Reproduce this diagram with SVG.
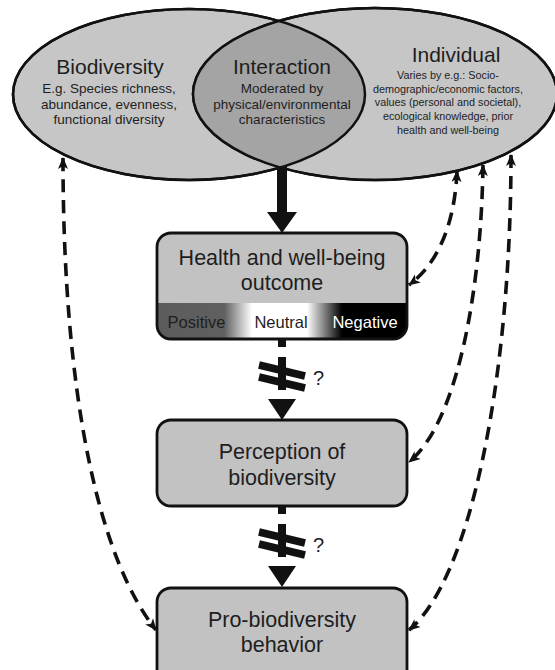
<svg xmlns="http://www.w3.org/2000/svg" width="555" height="670" viewBox="0 0 555 670">
<style>
text{font-family:"Liberation Sans",Arial,sans-serif;fill:#1e1e1e;text-anchor:middle}
.title{font-size:21px}
.sub{font-size:13.5px}
.ind{font-size:10.8px}
.box{font-size:21.5px}
.bar{font-size:16.5px}
.q{font-size:20px;text-anchor:start}
.ell{fill:#c6c6c6;stroke:#111;stroke-width:2.5}
.rbox{fill:#c2c2c2;stroke:#111;stroke-width:2.8}
.dash{fill:none;stroke:#111;stroke-width:3.6;stroke-dasharray:13 8}
.bk{fill:#111}
.brk{stroke:#111;stroke-width:7.5}
</style>
<defs>
<clipPath id="clipL"><ellipse cx="189" cy="94.5" rx="176" ry="85.5"/></clipPath>
<clipPath id="clipH"><rect x="157" y="233" width="250" height="106" rx="14"/></clipPath>
<linearGradient id="gr" x1="157" y1="0" x2="407" y2="0" gradientUnits="userSpaceOnUse">
<stop offset="0" stop-color="#5c5c5c"/>
<stop offset="0.27" stop-color="#606060"/>
<stop offset="0.38" stop-color="#ffffff"/>
<stop offset="0.6" stop-color="#ffffff"/>
<stop offset="0.74" stop-color="#000000"/>
<stop offset="1" stop-color="#000000"/>
</linearGradient>
<marker id="ah" viewBox="0 0 12 12" refX="11" refY="6" markerWidth="12" markerHeight="12" markerUnits="userSpaceOnUse" orient="auto-start-reverse">
<path d="M0,1 L12,6 L0,11 L3,6 z" fill="#111"/>
</marker>
</defs>

<g id="ellipses">
<g id="biodiversity">
<ellipse class="ell" cx="189" cy="94.5" rx="176" ry="85.5"/>
</g>
<g id="individual">
<ellipse class="ell" cx="375" cy="94" rx="182" ry="86"/>
</g>
<g id="interaction">
<ellipse cx="375" cy="94" rx="182" ry="86" fill="#a4a4a4" clip-path="url(#clipL)"/>
<ellipse cx="189" cy="94.5" rx="176" ry="85.5" fill="none" stroke="#111" stroke-width="2.5"/>
<ellipse cx="375" cy="94" rx="182" ry="86" fill="none" stroke="#111" stroke-width="2.5"/>
</g>
<g id="ellipse-texts">
<text class="title" x="110" y="74">Biodiversity</text>
<text class="sub" x="109" y="93">E.g. Species richness,</text>
<text class="sub" x="109" y="108.5">abundance, evenness,</text>
<text class="sub" x="109" y="124">functional diversity</text>
<text class="title" x="282" y="74">Interaction</text>
<text class="sub" x="282" y="93">Moderated by</text>
<text class="sub" x="282" y="108.5">physical/environmental</text>
<text class="sub" x="282" y="124">characteristics</text>
<text class="title" x="456" y="62">Individual</text>
<text class="ind" x="448" y="79">Varies by e.g.: Socio-</text>
<text class="ind" x="448" y="92.7">demographic/economic factors,</text>
<text class="ind" x="448" y="106.4">values (personal and societal),</text>
<text class="ind" x="448" y="120.1">ecological knowledge, prior</text>
<text class="ind" x="448" y="133.8">health and well-being</text>
</g>
</g>

<g id="health">
<g clip-path="url(#clipH)">
<rect x="157" y="233" width="250" height="106" fill="#c2c2c2"/>
<rect x="157" y="303" width="250" height="36" fill="url(#gr)"/>
</g>
<rect x="157" y="233" width="250" height="106" rx="14" fill="none" stroke="#111" stroke-width="2.8"/>
<text class="box" x="282" y="265">Health and well-being</text>
<text class="box" x="282" y="290">outcome</text>
<text class="bar" x="196.5" y="328">Positive</text>
<text class="bar" x="281" y="328">Neutral</text>
<text class="bar" x="365" y="328" style="fill:#fff">Negative</text>
</g>

<g id="perception">
<rect class="rbox" x="157" y="420" width="250" height="86" rx="14"/>
<text class="box" x="282" y="459">Perception of</text>
<text class="box" x="282" y="485">biodiversity</text>
</g>

<g id="behavior">
<rect class="rbox" x="157" y="588" width="250" height="100" rx="14"/>
<text class="box" x="282" y="627">Pro-biodiversity</text>
<text class="box" x="282" y="652">behavior</text>
</g>

<g id="connectors">
<rect class="bk" x="277" y="166" width="10" height="48"/>
<polygon class="bk" points="267,212 297,212 282,233"/>

<rect class="bk" x="278" y="339" width="8" height="8"/>
<rect class="bk" x="278" y="357" width="8" height="33"/>
<line class="brk" x1="259" y1="365" x2="305" y2="376"/>
<line class="brk" x1="259" y1="377" x2="305" y2="388"/>
<polygon class="bk" points="268,399 296,399 282,420"/>
<text class="q" x="313" y="385">?</text>

<rect class="bk" x="278" y="506" width="8" height="8"/>
<rect class="bk" x="278" y="524" width="8" height="33"/>
<line class="brk" x1="259" y1="532" x2="305" y2="543"/>
<line class="brk" x1="259" y1="544" x2="305" y2="555"/>
<polygon class="bk" points="268,566 296,566 282,587"/>
<text class="q" x="313" y="552">?</text>

<path class="dash" d="M63,158 C63,400 100,560 156,630" marker-start="url(#ah)" marker-end="url(#ah)"/>
<path class="dash" d="M457,171 C455,220 440,262 409,285" marker-start="url(#ah)" marker-end="url(#ah)"/>
<path class="dash" d="M483,165 C481,300 455,425 409,462" marker-start="url(#ah)" marker-end="url(#ah)"/>
<path class="dash" d="M511,155 C511,380 470,580 409,630" marker-start="url(#ah)" marker-end="url(#ah)"/>
</g>
</svg>
